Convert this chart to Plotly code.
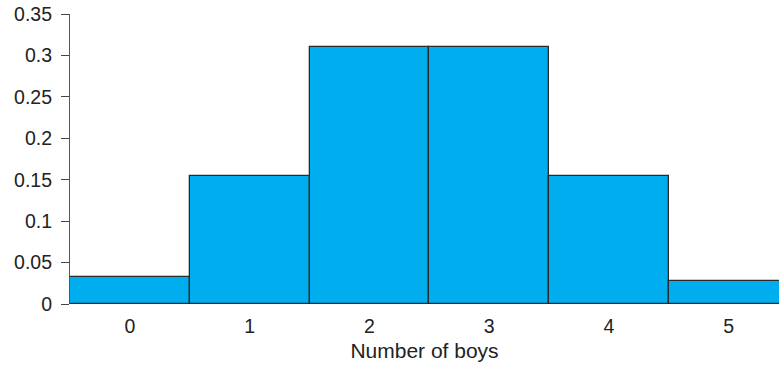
import plotly.graph_objects as go

boys = [0, 1, 2, 3, 4, 5]
prob = [0.032, 0.154, 0.310, 0.310, 0.154, 0.028]
y_ticks = [0, 0.05, 0.1, 0.15, 0.2, 0.25, 0.3, 0.35]
y_tick_text = ["0", "0.05", "0.1", "0.15", "0.2", "0.25", "0.3", "0.35"]

FONT = "Liberation Sans, Arial, sans-serif"

fig = go.Figure(go.Bar(
    x=boys, y=prob, width=1,
    marker=dict(color="#00AEEF", line=dict(color="#2b2b2b", width=1.3)),
))

fig.update_layout(
    width=779, height=365,
    margin=dict(l=70, r=0, t=14, b=61, autoexpand=False),
    paper_bgcolor="white", plot_bgcolor="white",
    showlegend=False, bargap=0,
    font=dict(family=FONT, size=19.5, color="#222"),
)
fig.update_xaxes(
    range=[-0.5, 5.42], tickvals=boys, ticktext=[str(b) for b in boys],
    ticks="", showgrid=False, zeroline=False, showline=False,
    ticklabelstandoff=8,
    title=dict(text="Number of boys", font=dict(size=21), standoff=7),
)
fig.update_yaxes(
    range=[0, 0.35], tickvals=y_ticks, ticktext=y_tick_text,
    ticks="outside", ticklen=8, tickcolor="#444", tickwidth=1.2,
    showline=True, linecolor="#555", linewidth=1.2,
    showgrid=False, zeroline=False, ticklabelstandoff=5,
)

fig.write_html(
    "out.html",
    config={"displayModeBar": False},
    post_script="document.body.style.margin='0';document.body.style.overflow='hidden';",
)
